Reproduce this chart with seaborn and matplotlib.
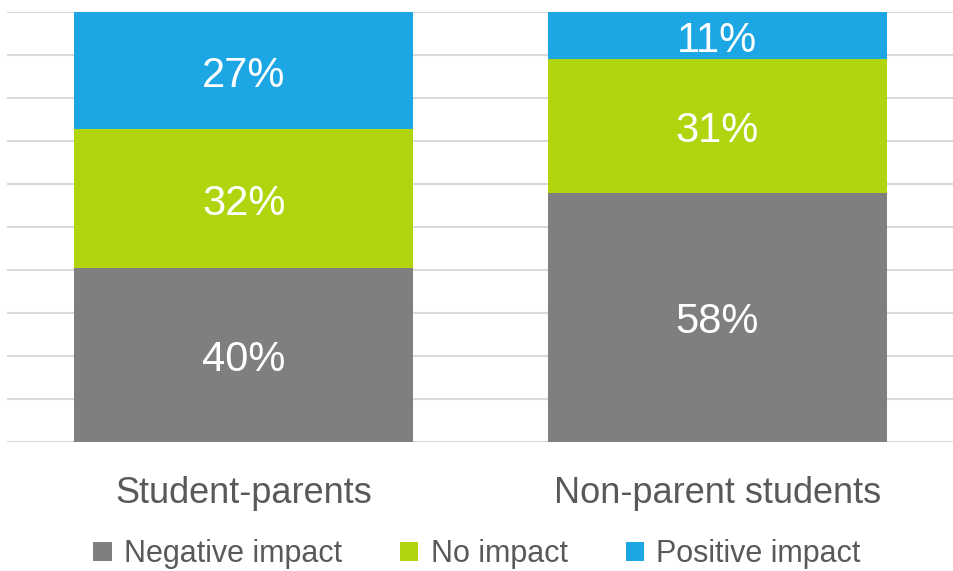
import numpy as np
import pandas as pd
import matplotlib
matplotlib.use('Agg')
import matplotlib.pyplot as plt
import matplotlib.transforms as mtransforms
import seaborn as sns
from matplotlib.patches import Patch

# Data
categories = ['Student-parents', 'Non-parent students']
negative = [40, 58]
no_impact = [32, 31]
positive = [27, 11]

series_names = ['Negative impact', 'No impact', 'Positive impact']
colors = ['#7F7F7F', '#B0D50F', '#1CA7E4']

sns.set_style('white')
plt.rcParams['font.family'] = ['Liberation Sans', 'DejaVu Sans']

fig = plt.figure(figsize=(9.54, 5.71), dpi=100)
ax = fig.add_axes([7 / 954, 1 - 442 / 571, 947 / 954, 430 / 571])

# labels sit a little lower than the segment middle, like the original
lab_trans = mtransforms.offset_copy(ax.transData, fig=fig, x=0, y=-5, units='dots')

# 100% stacked: normalise each bar by its total
raw = np.array([negative, no_impact, positive], dtype=float)
share = raw / raw.sum(axis=0) * 100

bottom = np.zeros(len(categories))
for name, vals, lab, col in zip(series_names, share, raw, colors):
    sns.barplot(x=categories, y=vals, bottom=bottom, color=col, width=0.716,
                saturation=1, edgecolor='none', linewidth=0, ax=ax, zorder=3)
    for i, (v, b, l) in enumerate(zip(vals, bottom, lab)):
        ax.text(i, b + v / 2, f'{int(l)}%', ha='center', va='center',
                color='white', fontsize=30, zorder=4, transform=lab_trans)
    bottom = bottom + vals

ax.set_xlim(-0.5, 1.5)
ax.set_ylim(0, 100)
ax.set_yticks(np.arange(0, 101, 10))
ax.yaxis.grid(True, color='#D9D9D9', linewidth=1.5, zorder=0)
ax.tick_params(axis='y', left=False, labelleft=False)
ax.tick_params(axis='x', bottom=False, pad=21, labelsize=26, labelcolor='#595959')
for s in ax.spines.values():
    s.set_visible(False)
ax.set_xlabel('')
ax.set_ylabel('')

handles = [Patch(facecolor=c, edgecolor='none') for c in colors]
fig.legend(handles, series_names, loc='center', ncol=3,
           bbox_to_anchor=(0.5, 1 - 554 / 571), frameon=False,
           fontsize=22, labelcolor='#595959', handlelength=0.6,
           handleheight=0.6, handletextpad=0.4, columnspacing=1.9)

plt.savefig('out.png', dpi=100)
